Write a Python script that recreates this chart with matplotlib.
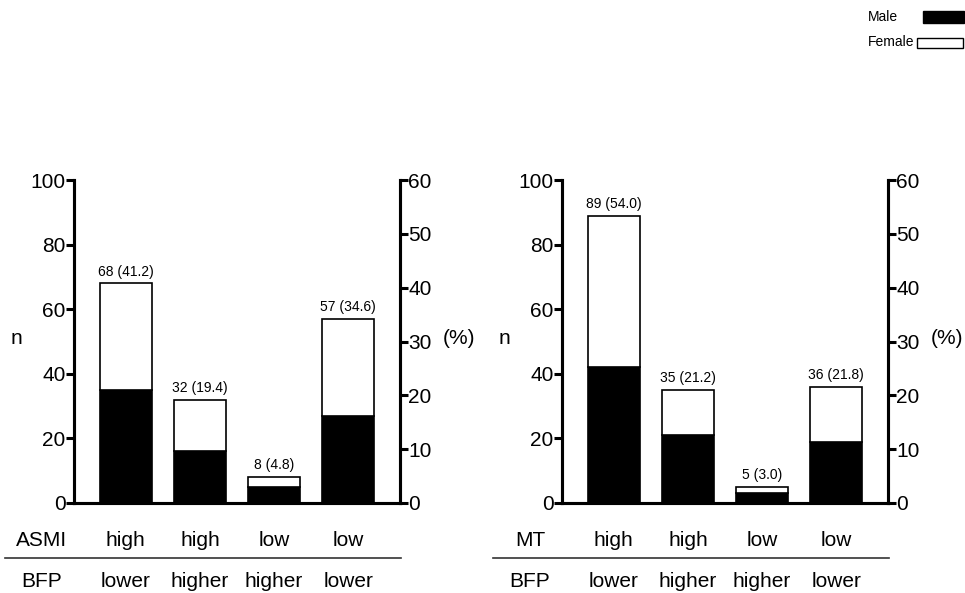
"""
Stacked bars: n by ASMI/BFP and MT/BFP groups, male vs female.
"""
import matplotlib.pyplot as plt
from matplotlib.lines import Line2D
from matplotlib.patches import Rectangle

plt.rcParams['font.family'] = ['Liberation Sans', 'DejaVu Sans']

# Data
left_top = ["high", "high", "low", "low"]
bfp_row = ["lower", "higher", "higher", "lower"]
asmi_total = [68, 32, 8, 57]
asmi_male = [35, 16, 5, 27]
asmi_pct = [41.2, 19.4, 4.8, 34.6]

mt_total = [89, 35, 5, 36]
mt_male = [42, 21, 3, 19]
mt_pct = [54.0, 21.2, 3.0, 21.8]

W, H = 965, 593
FS = 15
fig = plt.figure(figsize=(W / 100, H / 100), dpi=100)


def panel(x0, x1, total, male, pct, name):
    ax = fig.add_axes([x0 / W, 1 - 503 / H, (x1 - x0) / W, 323 / H])
    xs = range(len(total))
    female = [t - m for t, m in zip(total, male)]
    ax.bar(xs, male, width=0.7, color='black', edgecolor='black', linewidth=1.2)
    ax.bar(xs, female, bottom=male, width=0.7, color='white', edgecolor='black', linewidth=1.2)
    for x, t, p in zip(xs, total, pct):
        ax.text(x, t + 1.5, f"{t} ({p:.1f})", ha='center', va='bottom', fontsize=10)
    ax.set_xlim(-0.7, 3.7)
    ax.set_ylim(0, 100)
    ax.set_yticks(range(0, 101, 20))
    ax.set_xticks([])
    ax.spines['top'].set_visible(False)
    for s in ['left', 'right', 'bottom']:
        ax.spines[s].set_linewidth(2.2)
    ax.tick_params(axis='y', length=6, width=2.2, labelsize=FS, pad=0)

    ax2 = ax.twinx()
    ax2.set_ylim(0, 60)
    ax2.set_yticks(range(0, 61, 10))
    ax2.spines['top'].set_visible(False)
    for s in ['left', 'right', 'bottom']:
        ax2.spines[s].set_linewidth(2.2)
    ax2.tick_params(axis='y', length=6, width=2.2, labelsize=FS, pad=0)

    # axis titles
    fig.text((x0 - 58) / W, 1 - 339 / H, 'n', ha='center', va='center', fontsize=FS)
    fig.text((x1 + 59) / W, 1 - 338 / H, '(%)', ha='center', va='center', fontsize=FS)

    # category table below the axis
    centers = [ax.transData.transform((x, 0))[0] for x in xs]
    for c, a, b in zip(centers, left_top, bfp_row):
        fig.text(c / W, 1 - 546.5 / H, a, ha='center', va='baseline', fontsize=FS)
        fig.text(c / W, 1 - 587 / H, b, ha='center', va='baseline', fontsize=FS)
    fig.text((x0 - 32) / W, 1 - 546.5 / H, name, ha='center', va='baseline', fontsize=FS)
    fig.text((x0 - 32) / W, 1 - 587 / H, "BFP", ha='center', va='baseline', fontsize=FS)
    fig.add_artist(Line2D([(x0 - 69) / W, (x1 + 1) / W], [1 - 558 / H, 1 - 558 / H],
                          color='#333333', linewidth=1.2))


panel(74, 400, asmi_total, asmi_male, asmi_pct, "ASMI")
panel(562, 888, mt_total, mt_male, mt_pct, "MT")

# legend
fig.text(868 / W, 1 - 17 / H, "Male", ha='left', va='center', fontsize=10)
fig.text(868 / W, 1 - 42.5 / H, "Female", ha='left', va='center', fontsize=10)
fig.add_artist(Rectangle((923 / W, 1 - 23 / H), 41 / W, 12 / H, facecolor='black',
                         edgecolor='black', linewidth=1, transform=fig.transFigure))
fig.add_artist(Rectangle((917 / W, 1 - 48 / H), 46 / W, 10 / H, facecolor='white',
                         edgecolor='black', linewidth=1, transform=fig.transFigure))

fig.savefig("out.png", dpi=100)
